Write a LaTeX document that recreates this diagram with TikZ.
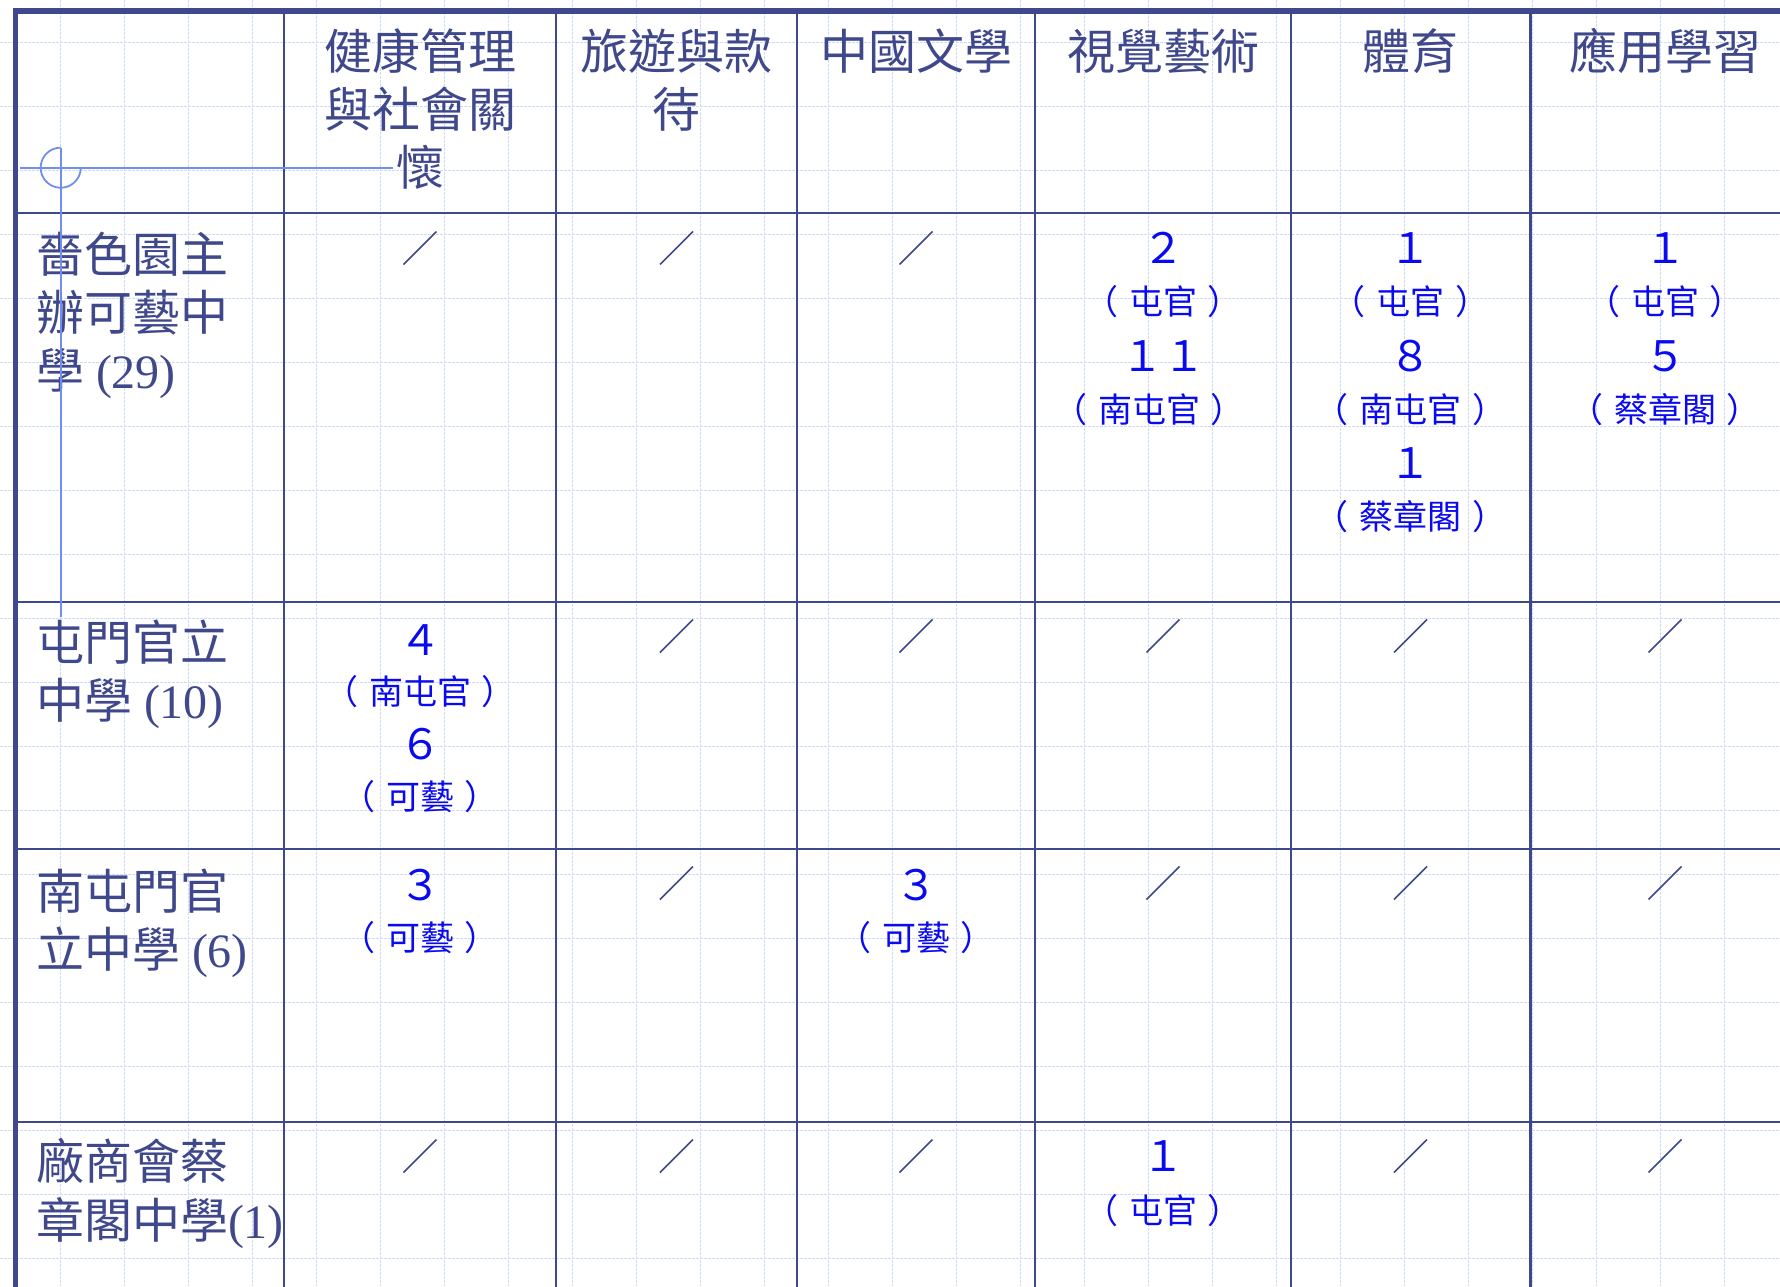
\documentclass[tikz,border=0pt]{standalone}
\usepackage{fontspec}
\setmainfont{Liberation Serif}
\newfontfamily\cjk{Noto Sans CJK TC}
\definecolor{navy}{RGB}{64,72,140}
\definecolor{txtblue}{RGB}{10,10,240}
\definecolor{gridc}{RGB}{206,218,249}
\definecolor{cursorc}{RGB}{111,142,240}
\newcommand\cellslash[2]{\draw[slashline] ({#1-16.5},{#2+16.5}) -- ({#1+16.5},{#2-16.5});}
\newcommand\pp[1]{（\kern0.32em #1\kern0.32em）}
\tikzset{
  gridline/.style={draw=gridc, line width=1.4pt, dash pattern=on 2.5pt off 1.5pt},
  outerline/.style={draw=navy, line width=5.5pt},
  innerline/.style={draw=navy, line width=2.6pt},
  slashline/.style={draw=navy, line width=1.6pt},
  cursorline/.style={draw=cursorc, line width=1.8pt},
  big/.style={inner sep=0pt, outer sep=0pt, text=navy, font=\fontsize{48}{58}\selectfont,
     text height=38.4pt, text depth=3.4pt},
  hdr/.style={big, anchor=center},
  rowlbl/.style={big, anchor=west},
  num/.style={inner sep=0pt, outer sep=0pt, text=txtblue, font=\cjk\fontsize{42}{48}\selectfont,
     text height=33.6pt, text depth=2.9pt, anchor=center},
  paren/.style={inner sep=0pt, outer sep=0pt, text=txtblue, font=\cjk\fontsize{34}{40}\selectfont,
     text height=27.2pt, text depth=2.4pt, anchor=center},
}
\begin{document}
\begin{tikzpicture}[x=1pt,y=-1pt]
\useasboundingbox (0,0) rectangle (1780,1286);
\clip (0,0) rectangle (1780,1286);
\fill[white] (0,0) rectangle (1780,1286);
% background grid
\foreach \i in {0,...,28} \draw[gridline] ({-3.3+64*\i},0) -- ({-3.3+64*\i},1286);
\foreach \j in {0,...,20} \draw[gridline] (0,{42.7+64*\j}) -- (1780,{42.7+64*\j});
% table lines
\foreach \x in {284,556,797,1035,1291,1530.5} \draw[innerline] (\x,11) -- (\x,1300);
\foreach \y in {213,602,849,1122} \draw[innerline] (15.5,\y) -- (1800,\y);
\draw[outerline] (15.5,1300) -- (15.5,11) -- (1800,11);
% header
\node[hdr] (h1a) at (420,52) {\cjk 健康管理};
\node[hdr] (h1b) at (420,110) {\cjk 與社會關};
\node[hdr] (h1c) at (420,168) {\cjk 懷};
\node[hdr] (h2a) at (676.5,52) {\cjk 旅遊與款};
\node[hdr] (h2b) at (676.5,110) {\cjk 待};
\node[hdr] (h3) at (916,52) {\cjk 中國文學};
\node[hdr] (h4) at (1163,52) {\cjk 視覺藝術};
\node[hdr] (h5) at (1410.5,52) {\cjk 體育};
\node[hdr] (h6) at (1665,52) {\cjk 應用學習};
% row labels
\node[rowlbl] (r1a) at (36,255) {\cjk 嗇色園主};
\node[rowlbl] (r1b) at (36,313) {\cjk 辦可藝中};
\node[rowlbl] (r1c) at (36,371) {{\cjk 學} (29)};
\node[rowlbl] (r2a) at (36,643) {\cjk 屯門官立};
\node[rowlbl] (r2b) at (36,701) {{\cjk 中學} (10)};
\node[rowlbl] (r3a) at (36,892) {\cjk 南屯門官};
\node[rowlbl] (r3b) at (36,950) {{\cjk 立中學} (6)};
\node[rowlbl] (r4a) at (36,1162) {\cjk 廠商會蔡};
\node[rowlbl] (r4b) at (36,1221) {{\cjk 章閣中學}(1)};
% row 1
\cellslash{420}{248}
\cellslash{676.5}{248}
\cellslash{916}{248}
\node[num] (a4n1) at (1163,248) {２};
\node[paren] (a4p1) at (1163,302.5) {\pp{屯官}};
\node[num] (a4n2) at (1163,356.5) {１１};
\node[paren] (a4p2) at (1149,410) {\pp{南屯官}};
\node[num] (a5n1) at (1410.5,248) {１};
\node[paren] (a5p1) at (1410.5,302.5) {\pp{屯官}};
\node[num] (a5n2) at (1410.5,356.5) {８};
\node[paren] (a5p2) at (1410.5,410) {\pp{南屯官}};
\node[num] (a5n3) at (1410.5,463.5) {１};
\node[paren] (a5p3) at (1410.5,517.5) {\pp{蔡章閣}};
\node[num] (a6n1) at (1665,248) {１};
\node[paren] (a6p1) at (1665,302.5) {\pp{屯官}};
\node[num] (a6n2) at (1665,356.5) {５};
\node[paren] (a6p2) at (1665,410) {\pp{蔡章閣}};
% row 2
\node[num] (b1n1) at (420,640) {４};
\node[paren] (b1p1) at (420,692) {\pp{南屯官}};
\node[num] (b1n2) at (420,744) {６};
\node[paren] (b1p2) at (420,797) {\pp{可藝}};
\cellslash{676.5}{636}
\cellslash{916}{636}
\cellslash{1163}{636}
\cellslash{1410.5}{636}
\cellslash{1665}{636}
% row 3
\node[num] (c1n1) at (420,885) {３};
\node[paren] (c1p1) at (420,938) {\pp{可藝}};
\cellslash{676.5}{883}
\node[num] (c3n1) at (916,885) {３};
\node[paren] (c3p1) at (916,938) {\pp{可藝}};
\cellslash{1163}{883}
\cellslash{1410.5}{883}
\cellslash{1665}{883}
% row 4
\cellslash{420}{1156}
\cellslash{676.5}{1156}
\cellslash{916}{1156}
\node[num] (d4n1) at (1163,1156) {１};
\node[paren] (d4p1) at (1163,1211) {\pp{屯官}};
\cellslash{1410.5}{1156}
\cellslash{1665}{1156}
% cursor mark
\draw[cursorline] plot[domain=90:360, samples=60] ({60.7+20*cos(\x)}, {167.7-20*sin(\x)});
\draw[cursorline] (60.7,147.7) -- (60.7,617);
\draw[cursorline] (20,167.7) -- (393,167.7);
\end{tikzpicture}
\end{document}
